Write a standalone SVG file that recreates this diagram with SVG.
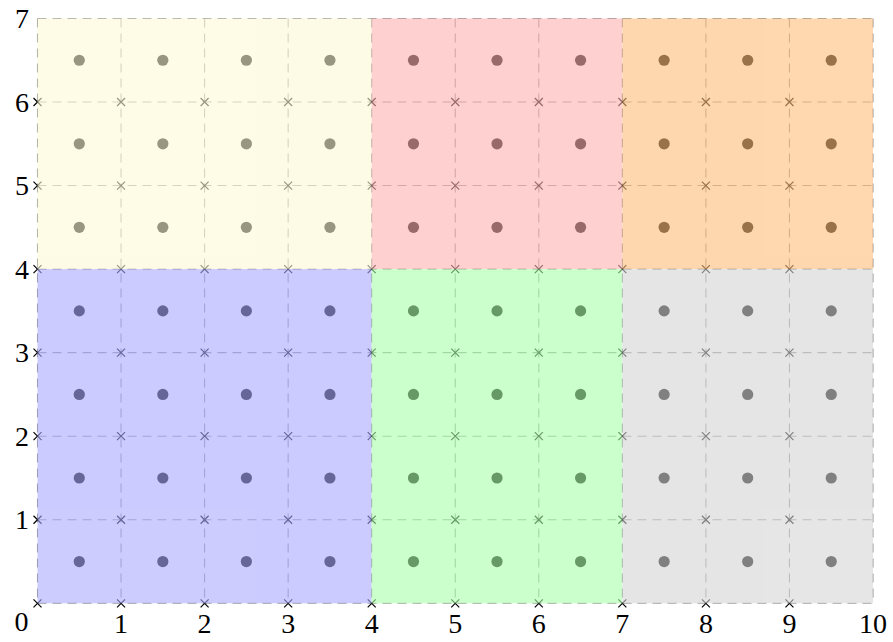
<svg xmlns="http://www.w3.org/2000/svg" xmlns:xlink="http://www.w3.org/1999/xlink" width="893" height="642" viewBox="0 0 893 642">
<defs>
<style>
.grid{fill:none;stroke:#9a9a9a;stroke-width:1.1;stroke-dasharray:9 6}
.lbl{font-family:"Liberation Serif","DejaVu Serif",serif;font-size:28px;fill:#000}
.reg{opacity:0.6}
</style>
<circle id="d" r="5.6" fill="#000"/>
<path id="x" d="M-4,-4L4,4M-4,4L4,-4" stroke="#000" stroke-width="1.2" fill="none"/>
<g id="drow">
<use href="#d" x="79.28"/><use href="#d" x="162.83"/><use href="#d" x="246.38"/><use href="#d" x="329.93"/><use href="#d" x="413.48"/><use href="#d" x="497.03"/><use href="#d" x="580.58"/><use href="#d" x="664.13"/><use href="#d" x="747.68"/><use href="#d" x="831.23"/>
</g>
<g id="xrow">
<use href="#x" x="37.5"/><use href="#x" x="121.05"/><use href="#x" x="204.6"/><use href="#x" x="288.15"/><use href="#x" x="371.7"/><use href="#x" x="455.25"/><use href="#x" x="538.8"/><use href="#x" x="622.35"/><use href="#x" x="705.9"/><use href="#x" x="789.45"/>
</g>
</defs>
<rect width="893" height="642" fill="#fff"/>
<g id="grid" class="grid">
<path d="M37.5,18.45V603.3M121.05,18.45V603.3M204.6,18.45V603.3M288.15,18.45V603.3M371.7,18.45V603.3M455.25,18.45V603.3M538.8,18.45V603.3M622.35,18.45V603.3M705.9,18.45V603.3M789.45,18.45V603.3M873,18.45V603.3"/>
<path d="M37.5,603.3H873M37.5,519.75H873M37.5,436.2H873M37.5,352.65H873M37.5,269.1H873M37.5,185.55H873M37.5,102H873M37.5,18.45H873"/>
</g>
<g id="crosses">
<use href="#xrow" y="603.3"/><use href="#xrow" y="519.75"/><use href="#xrow" y="436.2"/><use href="#xrow" y="352.65"/><use href="#xrow" y="269.1"/><use href="#xrow" y="185.55"/><use href="#xrow" y="102"/>
</g>
<g id="dots">
<use href="#drow" y="561.53"/><use href="#drow" y="477.98"/><use href="#drow" y="394.43"/><use href="#drow" y="310.88"/><use href="#drow" y="227.33"/><use href="#drow" y="143.78"/><use href="#drow" y="60.23"/>
</g>
<g id="regions" class="reg">
<rect id="r-yellow" x="37.5" y="18.45" width="334.2" height="250.65" fill="#FDFAD5"/>
<rect id="r-red" x="371.7" y="18.45" width="250.65" height="250.65" fill="#FFB1B1"/>
<rect id="r-orange" x="622.35" y="18.45" width="250.65" height="250.65" fill="#FFBE7B"/>
<rect id="r-blue" x="37.5" y="269.1" width="334.2" height="334.2" fill="#AAAAFF"/>
<rect id="r-green" x="371.7" y="269.1" width="250.65" height="334.2" fill="#AAFFAA"/>
<rect id="r-gray" x="622.35" y="269.1" width="250.65" height="334.2" fill="#D5D5D5"/>
</g>
<g id="labels" class="lbl">
<text x="21.5" y="631" text-anchor="middle">0</text>
<text x="121.05" y="633" text-anchor="middle">1</text>
<text x="204.6" y="633" text-anchor="middle">2</text>
<text x="288.15" y="633" text-anchor="middle">3</text>
<text x="371.7" y="633" text-anchor="middle">4</text>
<text x="455.25" y="633" text-anchor="middle">5</text>
<text x="538.8" y="633" text-anchor="middle">6</text>
<text x="622.35" y="633" text-anchor="middle">7</text>
<text x="705.9" y="633" text-anchor="middle">8</text>
<text x="789.45" y="633" text-anchor="middle">9</text>
<text x="873" y="633" text-anchor="middle">10</text>
<text x="29" y="529.3" text-anchor="end">1</text>
<text x="29" y="445.7" text-anchor="end">2</text>
<text x="29" y="362.2" text-anchor="end">3</text>
<text x="29" y="278.6" text-anchor="end">4</text>
<text x="29" y="195.1" text-anchor="end">5</text>
<text x="29" y="111.5" text-anchor="end">6</text>
<text x="29" y="28" text-anchor="end">7</text>
</g>
</svg>
